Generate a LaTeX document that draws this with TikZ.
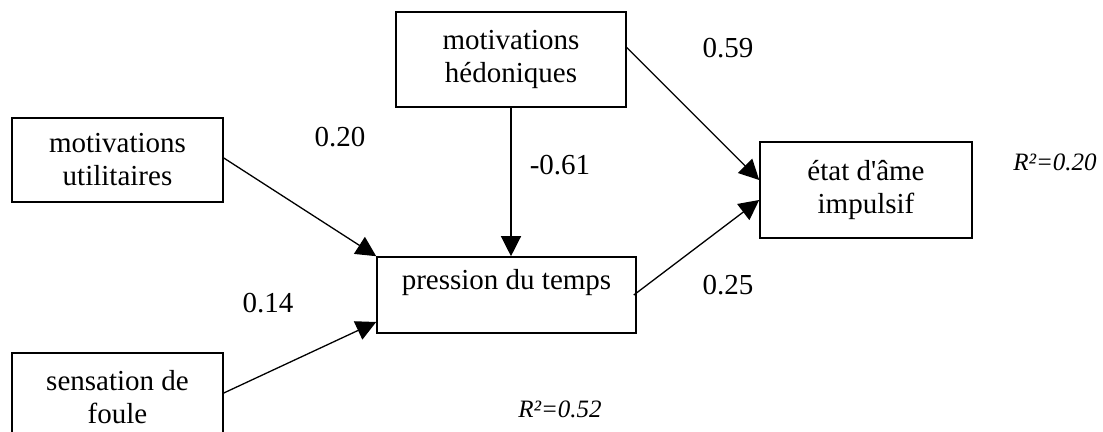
\documentclass[tikz,border=0pt]{standalone}
\usepackage{fontspec}
\setmainfont{Liberation Serif}
\usetikzlibrary{arrows.meta,calc}

\tikzset{
  varbox/.style={draw, line width=0.8pt, align=center, inner sep=0pt,
    font=\fontsize{14.5}{16.5}\selectfont},
  coef/.style={font=\fontsize{14.5}{16.5}\selectfont},
  rsq/.style={font=\fontsize{12.5}{14}\selectfont\itshape},
  effect/.style={->, line width=0.65pt}
}

\begin{document}
\begin{tikzpicture}[x=0.5pt, y=-0.5pt, >={Triangle[length=10pt,width=10pt]}]
  \useasboundingbox (0,0) rectangle (1103,432);

  % variables
  \node[varbox, minimum width=105.5pt, minimum height=42pt] (util) at (117.5,160)
    {motivations\\utilitaires};
  \node[varbox, minimum width=105.5pt, minimum height=44pt] (sens) at (117.5,397)
    {sensation de\\foule};
  \node[varbox, minimum width=115pt, minimum height=47.5pt] (hedo) at (511,59.5)
    {motivations\\hédoniques};
  \node[varbox, minimum width=129.5pt, minimum height=38pt,
    text height=10pt, text depth=15pt] (press) at (506.5,295)
    {pression du temps};
  \node[varbox, minimum width=106pt, minimum height=48pt] (etat) at (866,190)
    {état d\textquotesingle âme\\impulsif};

  % paths
  \draw[effect] ([yshift=1pt]util.east) -- (press.north west);
  \draw[effect] ([yshift=2pt]sens.east) -- ([yshift=-13.5pt]press.west);
  \draw[effect] (hedo.south) -- (hedo.south |- press.north);
  \draw[effect] ([yshift=6pt]hedo.east) -- ([yshift=5pt]etat.west);
  \draw[effect] ([xshift=-1.5pt]press.east) -- ([yshift=-5pt]etat.west);

  % coefficients
  \node[coef] (c1) at (340,137) {0.20};
  \node[coef] (c2) at (268,303) {0.14};
  \node[coef] (c3) at (560,165) {-0.61};
  \node[coef] (c4) at (728,48) {0.59};
  \node[coef] (c5) at (728,285) {0.25};
  \node[rsq] (r1) at (1055,162) {R²=0.20};
  \node[rsq] (r2) at (560,409) {R²=0.52};
\end{tikzpicture}
\end{document}
